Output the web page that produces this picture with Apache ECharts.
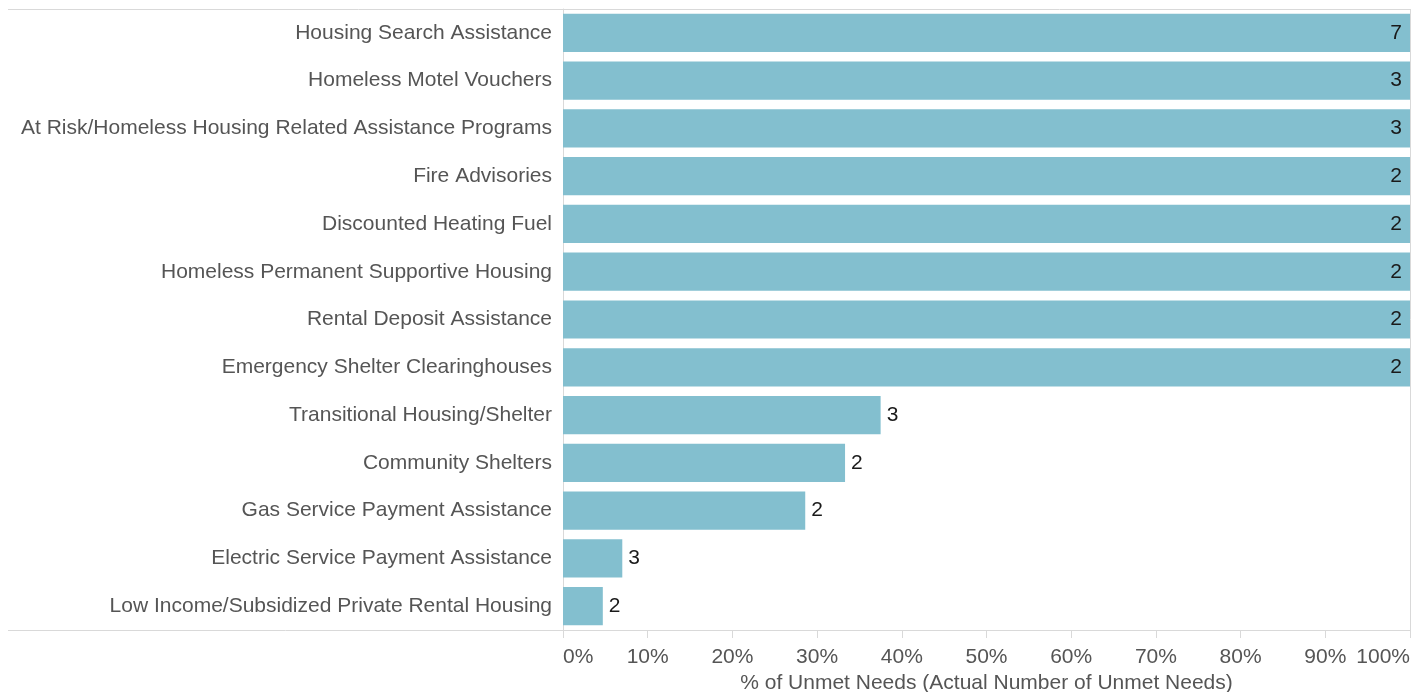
<!DOCTYPE html>
<html>
<head>
<meta charset="utf-8">
<script src="https://cdn.jsdelivr.net/npm/echarts@6/dist/echarts.min.js"></script>
<style>
  html, body { margin: 0; padding: 0; background: #fff; }
  #chart { width: 1426px; height: 692px; }
</style>
</head>
<body>
<div id="chart"></div>
<script>
// Categories, top to bottom
const categories = [
  "Housing Search Assistance",
  "Homeless Motel Vouchers",
  "At Risk/Homeless Housing Related Assistance Programs",
  "Fire Advisories",
  "Discounted Heating Fuel",
  "Homeless Permanent Supportive Housing",
  "Rental Deposit Assistance",
  "Emergency Shelter Clearinghouses",
  "Transitional Housing/Shelter",
  "Community Shelters",
  "Gas Service Payment Assistance",
  "Electric Service Payment Assistance",
  "Low Income/Subsidized Private Rental Housing"
];
// % of unmet needs
const pctUnmet = [100, 100, 100, 100, 100, 100, 100, 100, 37.5, 33.3, 28.6, 7.0, 4.7];
// actual number of unmet needs (bar labels)
const unmetCounts = [7, 3, 3, 2, 2, 2, 2, 2, 3, 2, 2, 3, 2];
const xTicks = [0, 10, 20, 30, 40, 50, 60, 70, 80, 90, 100];

const font = "'Liberation Sans', Arial, Helvetica, sans-serif";
const lineColor = "#d9d9d9";

const chart = echarts.init(document.getElementById("chart"));

const option = {
  animation: false,
  grid: {
    left: 563,
    right: 16,
    top: 9,
    bottom: 62,
    containLabel: false,
    outerBoundsMode: "none"
  },
  xAxis: {
    type: "value",
    min: xTicks[0],
    max: xTicks[xTicks.length - 1],
    interval: 10,
    name: "% of Unmet Needs (Actual Number of Unmet Needs)",
    nameLocation: "middle",
    nameGap: 41,
    nameTextStyle: { color: "#555", fontSize: 21, fontFamily: font },
    axisLine: { show: true, lineStyle: { color: lineColor, width: 1 } },
    axisTick: { show: true, length: 8, lineStyle: { color: lineColor } },
    axisLabel: {
      color: "#555",
      fontSize: 21,
      fontFamily: font,
      margin: 17,
      alignMinLabel: "left",
      alignMaxLabel: "right",
      formatter: (v) => v + "%"
    },
    splitLine: { show: false }
  },
  yAxis: {
    type: "category",
    data: categories,
    inverse: true,
    axisLine: { show: true, lineStyle: { color: lineColor, width: 1 } },
    axisTick: { show: false },
    axisLabel: {
      color: "#555",
      fontSize: 21,
      fontFamily: font,
      margin: 11
    }
  },
  series: [
    {
      type: "bar",
      barCategoryGap: "20%",
      itemStyle: { color: "#83bfcf" },
      data: pctUnmet.map((v, i) => ({
        value: v,
        label: {
          show: true,
          position: v >= 100 ? "insideRight" : "right",
          distance: v >= 100 ? 8 : 6,
          color: "#1a1a1a",
          fontSize: 21,
          fontFamily: font,
          formatter: () => String(unmetCounts[i])
        }
      }))
    }
  ],
  graphic: [
    { type: "line", shape: { x1: 8, y1: 9.5, x2: 1410, y2: 9.5 }, style: { stroke: lineColor, lineWidth: 1 } },
    { type: "line", shape: { x1: 8, y1: 630.5, x2: 563, y2: 630.5 }, style: { stroke: lineColor, lineWidth: 1 } },
    { type: "line", shape: { x1: 1410.5, y1: 9, x2: 1410.5, y2: 630 }, style: { stroke: lineColor, lineWidth: 1 } }
  ]
};

chart.setOption(option);
</script>
</body>
</html>
